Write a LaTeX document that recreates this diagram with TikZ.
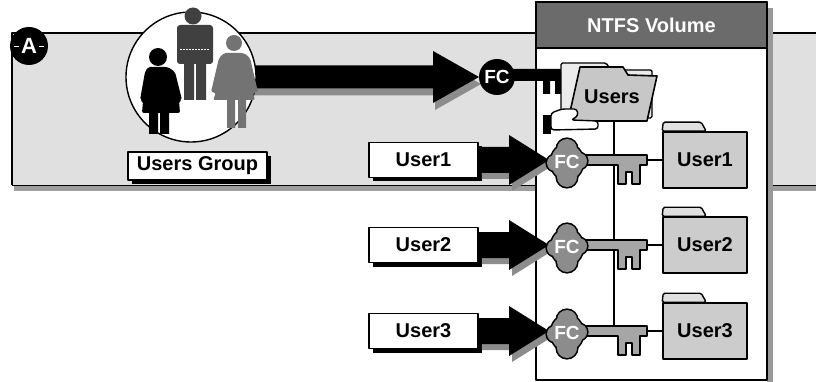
\documentclass[tikz,border=0pt]{standalone}
\usepackage{fontspec}
\setmainfont{Liberation Sans}
\usetikzlibrary{calc,shadows}

\tikzset{
  lbl/.style={font=\fontsize{20}{20}\selectfont\bfseries, inner sep=0pt},
  labelbox/.style={lbl, draw=black, line width=1.6pt, fill=white,
    minimum width=109pt, minimum height=35pt,
    drop shadow={shadow xshift=4pt, shadow yshift=-4pt, fill=black, opacity=1}},
  folderbody/.style={lbl, draw=black, line width=1.6pt, fill=black!20,
    minimum width=84pt, minimum height=56pt},
  foldertab/.style={draw=black, line width=1.4pt, fill=black!12, rounded corners=1.5pt},
  fctext/.style={font=\fontsize{19}{19}\selectfont\bfseries, text=white, inner sep=0pt},
  conn/.style={draw=black, line width=1.1pt},
  keyshaft/.style={draw=black, line width=1.5pt, fill=black!35},
}

% broad block arrow: style, from, to, shaft half height, head half height, head length
\newcommand\fatarrow[6]{%
  \fill[#1] ($(#2)+(0,-#4)$) -- ($(#3)+(-#6,-#4)$) -- ($(#3)+(-#6,-#5)$) -- (#3)
    -- ($(#3)+(-#6,#5)$) -- ($(#3)+(-#6,#4)$) -- ($(#2)+(0,#4)$) -- cycle;}

% scalloped bow of a key, outlined union of lobes
\newcommand\fcbow[1]{%
  \draw[line width=3.2pt] (#1) ellipse [x radius=16, y radius=18]
    ($(#1)+(0,-13)$) circle [radius=10] ($(#1)+(0,15)$) circle [radius=10]
    ($(#1)+(-12,1)$) circle [radius=8] ($(#1)+(12,-1)$) circle [radius=8];
  \fill[black!45] (#1) ellipse [x radius=16, y radius=18]
    ($(#1)+(0,-13)$) circle [radius=10] ($(#1)+(0,15)$) circle [radius=10]
    ($(#1)+(-12,1)$) circle [radius=8] ($(#1)+(12,-1)$) circle [radius=8];}

% one user: label, arrow, key and home folder
\newcommand\userrow[2]{%
  \node[labelbox] (u#1) at (423.5,#2) {User#1};
  \coordinate (t#1) at (549,#2);
  \fatarrow{black!45, transform canvas={shift={(3pt,-6pt)}}}{u#1.east}{t#1}{13}{25}{40}
  \fatarrow{black}{u#1.east}{t#1}{13}{25}{40}
  \node[folderbody] (fd#1) at (705,#2) {User#1};
  \draw[foldertab] (fd#1.north west) -- ++(1,-9) -- ++(38,0) -- ++(5,9) -- cycle;
  \draw[conn] (trunk |- fd#1.west) -- (fd#1.west);
  \coordinate (k#1) at (567,#2);
  \filldraw[keyshaft] (k#1) ++(14,-5) -- ++(66,0) -- ++(0,10) -- ++(-7,0) -- ++(0,19)
    -- ++(-8,0) -- ++(0,-12) -- ++(-6,0) -- ++(0,12) -- ++(-8,0) -- ++(0,-19)
    -- ++(-37,0) -- cycle;
  \coordinate (b#1) at ($(k#1)+(0,2)$);
  \fcbow{b#1}
  \node[fctext] (fc#1) at (b#1) {FC};
}

\begin{document}
\begin{tikzpicture}[x=1pt, y=-1pt, line join=round]
\useasboundingbox (0,0) rectangle (816,382);

% shaded strip behind the group
\fill[black!12] (12,33) rectangle (816,185);
\fill[black!38] (14,185) rectangle (816,191);
\draw[line width=1.8pt] (816,33) -- (12,33) -- (12,185);
\draw[line width=0.9pt] (12,185) -- (816,185);

% NTFS volume panel
\fill[black!40] (767,8) rectangle (773,382);
\filldraw[fill=white, line width=1.2pt] (536,2) rectangle (767,380);
\filldraw[fill=black!58, line width=1.2pt] (536,2) rectangle (767,48);
\node[lbl, text=white] (vol) at (651.5,25) {NTFS Volume};

% folder tree trunk
\coordinate (trunk) at (614,121);
\coordinate (trunkend) at (614,331);
\draw[conn] (trunk) -- (trunkend);

% group key
\fill (505,69) -- (578,69) -- (578,81) -- (561,81) -- (561,94) -- (555,94)
  -- (555,81) -- (550,81) -- (550,94) -- (543,94) -- (543,81) -- (505,81) -- cycle;
\coordinate (grpc) at (200,77);
\coordinate (fcw) at (479,77);
\fatarrow{black!45, transform canvas={shift={(2pt,-7pt)}}}{grpc}{fcw}{11.5}{26}{46}
\fatarrow{black}{grpc}{fcw}{11.5}{26}{46}
\node[circle, fill=black, minimum size=36pt, fctext] (fc) at (497,77) {FC};

% group of people
\node[circle, draw, line width=1.4pt, fill=white, minimum size=130pt, inner sep=0pt] (grp) at (191,77) {};
% man
\fill[black!75] (193,16) circle [radius=8.5];
\fill[black!75, rounded corners=3pt] (177,25) rectangle (213,64);
\fill[black!75] (184,62) rectangle (194,100) (196,62) rectangle (206,100);
\draw[white, line width=0.6pt, dash pattern=on 2pt off 1pt] (180,49) -- (209,49);
% woman on the right
\fill[black!55] (234,43) circle [radius=8];
\fill[black!55, rounded corners=2pt] (224,53) -- (244,53) -- (250,58) -- (258,92) -- (253,93)
  -- (255,100) -- (213,100) -- (216,93) -- (211,92) -- (219,58) -- cycle;
\fill[black!55] (227,99) rectangle (235,128) (238,99) rectangle (246,128);
% woman on the left
\fill (158,57) circle [radius=9];
\fill[rounded corners=2pt] (148,67) -- (168,67) -- (175,72) -- (182,100) -- (179,101)
  -- (180,113) -- (142,113) -- (143,101) -- (140,100) -- (145,72) -- cycle;
\fill (149,112) rectangle (158,134) (160,112) rectangle (169,134);

\node[labelbox, minimum width=139pt, minimum height=28pt] (ug) at (197.5,166) {Users Group};

% section mark
\node[circle, fill=black, minimum size=38pt, inner sep=0pt, text=white,
  font=\fontsize{22}{22}\selectfont\bfseries] (mark) at (29,46) {A};
\draw[white, line width=0.8pt] ($(mark.west)+(4,0)$) -- ($(mark.west)+(9,0)$)
  ($(mark.east)+(-9,0)$) -- ($(mark.east)+(-4,0)$);

% shared Users folder held by a hand
\filldraw[fill=black!8, line width=1.4pt, rounded corners=1.5pt] (561,118) -- (561,63)
  -- (606,63) -- (611,70) -- (652,70) -- (652,118) -- cycle;
\filldraw[fill=black!22, line width=1.6pt] (580,67) -- (623,67) -- (628,75) -- (657,76)
  -- (647,121) -- (568,121) -- cycle;
\node[lbl] (uf) at (612,97) {Users};
\fill (543,115) rectangle (551,134);
\filldraw[fill=white, line width=1.4pt, rounded corners=3pt] (551,113) -- (562,109)
  -- (577,109) -- (578,116) -- (571,120) -- (598,121) -- (598,129) -- (551,130) -- cycle;

% individual users
\userrow{1}{160}
\userrow{2}{245}
\userrow{3}{331}
\end{tikzpicture}
\end{document}
